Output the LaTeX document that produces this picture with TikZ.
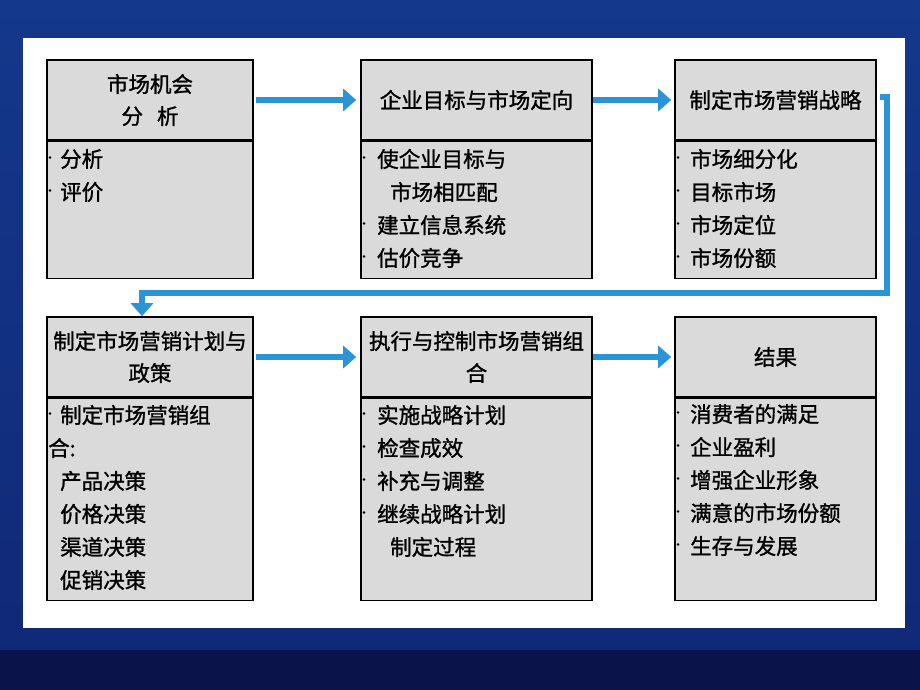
\documentclass[tikz,border=0pt]{standalone}
\usepackage{fontspec}
\setmainfont{Noto Sans CJK SC}[RawFeature={embolden=1.2}]
\usetikzlibrary{arrows.meta}
\definecolor{flowblue}{RGB}{42,148,214}
\definecolor{bgtop}{RGB}{20,56,140}
\definecolor{bgbot}{RGB}{16,40,118}
\definecolor{bgband}{RGB}{10,20,74}
\definecolor{boxgray}{RGB}{218,218,218}
\tikzset{
  hdr/.style={draw=black, line width=1.6pt, fill=boxgray, align=center,
    font=\fontsize{21.5}{32}\selectfont, inner sep=0pt},
  bdy/.style={draw=black, line width=1.6pt, fill=boxgray, inner sep=0pt},
  txt/.style={inner sep=0pt, font=\fontsize{21.5}{32}\selectfont},
  bul/.style={inner sep=0pt, font=\fontsize{11}{12}\selectfont},
  flow/.style={draw=flowblue, line width=6pt,
    -{Triangle[width=22pt,length=13pt]}},
}
\newcommand\bl[5]{%
  \node[bul] (#1d) at (#2+3,#4) {·};
  \node[txt, anchor=west] (#1) at (#3,#4) {#5};
}
\newcommand\pl[4]{%
  \node[txt, anchor=west] (#1) at (#2,#3) {#4};
}
\begin{document}
\begin{tikzpicture}[x=1pt,y=-1pt]
\useasboundingbox (0,0) rectangle (920,690);
% background
\shade[top color=bgtop, bottom color=bgbot] (0,0) rectangle (920,690);
\fill[bgband] (0,650) rectangle (920,690);
\fill[white] (23,38) rectangle (905,628);

% row 1
\node[hdr, minimum width=206, minimum height=80] (h1) at (150,100) {市场机会\\分\hspace{14pt}析};
\node[bdy, minimum width=206, minimum height=137, anchor=north] (b1) at (h1.south) {};
\node[hdr, minimum width=231, minimum height=80] (h2) at (476.5,100) {企业目标与市场定向};
\node[bdy, minimum width=231, minimum height=137, anchor=north] (b2) at (h2.south) {};
\node[hdr, minimum width=201, minimum height=80] (h3) at (775.5,100) {制定市场营销战略};
\node[bdy, minimum width=201, minimum height=137, anchor=north] (b3) at (h3.south) {};

% row 2
\node[hdr, minimum width=206, minimum height=80] (h4) at (150,357) {制定市场营销计划与\\政策};
\node[bdy, minimum width=206, minimum height=202, anchor=north] (b4) at (h4.south) {};
\node[hdr, minimum width=231, minimum height=80] (h5) at (476.5,357) {执行与控制市场营销组\\合};
\node[bdy, minimum width=231, minimum height=202, anchor=north] (b5) at (h5.south) {};
\node[hdr, minimum width=201, minimum height=80] (h6) at (775.5,357) {结果};
\node[bdy, minimum width=201, minimum height=202, anchor=north] (b6) at (h6.south) {};

% body texts
\bl{t11}{47}{60}{159}{分析}
\bl{t12}{47}{60}{192}{评价}

\bl{t21}{361}{377}{159}{使企业目标与}
\pl{t22}{390}{192}{市场相匹配}
\bl{t23}{361}{377}{225}{建立信息系统}
\bl{t24}{361}{377}{258}{估价竞争}

\bl{t31}{675}{690}{159}{市场细分化}
\bl{t32}{675}{690}{192}{目标市场}
\bl{t33}{675}{690}{225}{市场定位}
\bl{t34}{675}{690}{258}{市场份额}

\bl{t41}{47}{60}{415}{制定市场营销组}
\pl{t42}{48}{448}{合:}
\pl{t43}{60}{481}{产品决策}
\pl{t44}{60}{514}{价格决策}
\pl{t45}{60}{547}{渠道决策}
\pl{t46}{60}{580}{促销决策}

\bl{t51}{361}{377}{415}{实施战略计划}
\bl{t52}{361}{377}{448}{检查成效}
\bl{t53}{361}{377}{481}{补充与调整}
\bl{t54}{361}{377}{514}{继续战略计划}
\pl{t55}{390}{547}{制定过程}

\bl{t61}{675}{690}{414}{消费者的满足}
\bl{t62}{675}{690}{447}{企业盈利}
\bl{t63}{675}{690}{480}{增强企业形象}
\bl{t64}{675}{690}{513}{满意的市场份额}
\bl{t65}{675}{690}{546}{生存与发展}

% connectors
\draw[flow, shorten <=2pt, shorten >=4pt] (h1.east) -- (h2.west);
\draw[flow, shorten >=3pt] (h2.east) -- (h3.west);
\draw[flow, shorten <=2pt, shorten >=4pt] (h4.east) -- (h5.west);
\draw[flow, shorten >=3pt] (h5.east) -- (h6.west);
\coordinate (w1) at (887,97);
\coordinate (w2) at (887,293);
\coordinate (w4) at ([xshift=-8pt]h4.north);
\draw[flow, line join=miter] ([xshift=3pt,yshift=3pt]h3.east) -- (w1) -- (w2) -| (w4);
\end{tikzpicture}
\end{document}
